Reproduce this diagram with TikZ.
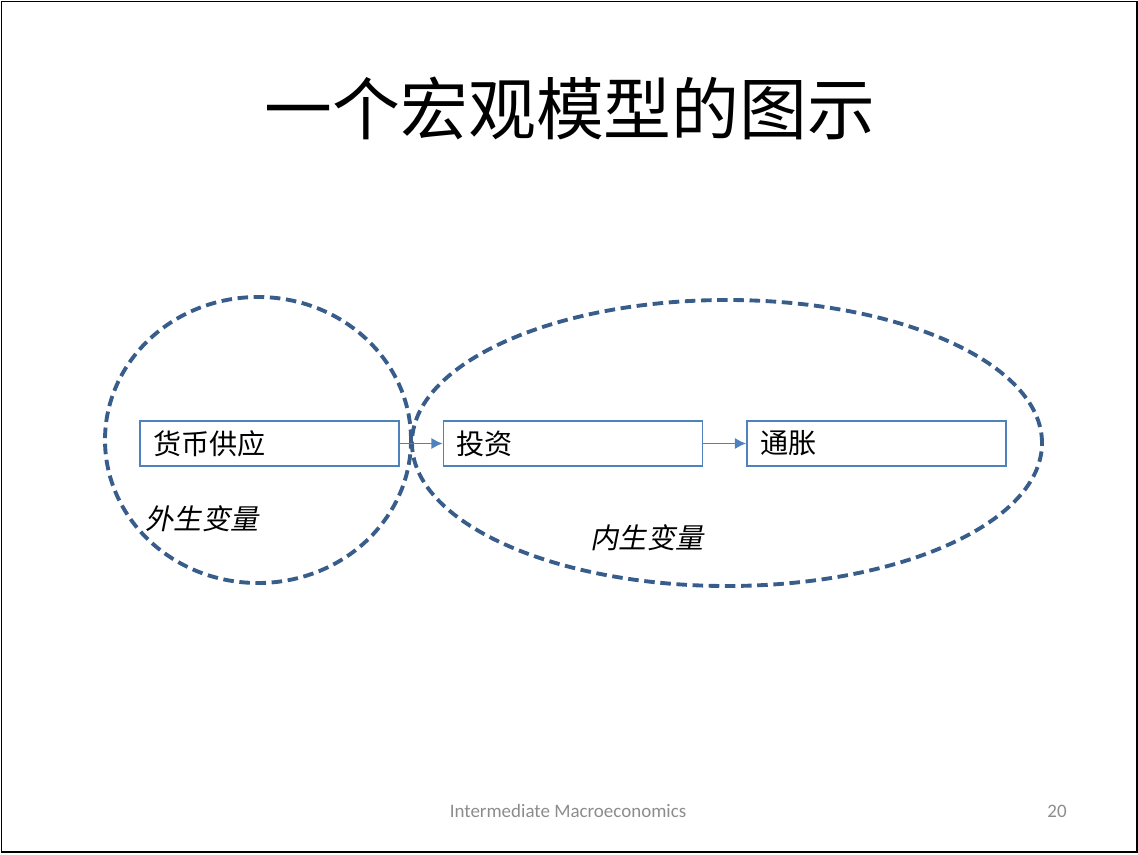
\documentclass[tikz,border=0pt]{standalone}
\usepackage{fontspec}
\setsansfont{Carlito}
\newfontfamily\cjk{Noto Sans CJK SC}
\newfontfamily\cjkit[FakeSlant=0.2]{Noto Sans CJK SC}
\usetikzlibrary{arrows.meta}
\definecolor{ringblue}{HTML}{385D8A}
\definecolor{boxblue}{HTML}{4F81BD}
\definecolor{footgray}{HTML}{8C8C8C}
\tikzset{
  varbox/.style={draw=boxblue, line width=0.5pt, minimum width=2.59cm, minimum height=0.45cm,
    text width=2.33cm, inner sep=0pt, align=left, font=\cjk\fontsize{8}{9}\selectfont},
  ring/.style={draw=ringblue, line width=1.1pt, dash pattern=on 3pt off 1.6pt},
  link/.style={draw=boxblue, line width=0.5pt, -{Latex[length=3.2pt,width=3.2pt]}}
}
\begin{document}
\begin{tikzpicture}
\useasboundingbox (0,0) rectangle (11.38,8.54);
\draw[line width=0.4pt] (0.015,0.02) rectangle (11.37,8.525);
\draw[line width=0.6pt] (11.37,8.525)--(11.37,0.02)--(0.015,0.02);
\node[font=\cjk\fontsize{19.3}{22}\selectfont] (title) at (5.70,7.46) {一个宏观模型的图示};
% two groups of variables
\draw[ring] (2.58,4.14) ellipse (1.53 and 1.43);
\draw[ring] (7.27,4.11) ellipse (3.15 and 1.43);
\node[varbox] (money) at (2.695,4.105) {货币供应};
\node[varbox] (invest) at (5.73,4.105) {投资};
\node[varbox] (infl) at (8.765,4.105) {通胀};
\draw[link] (money)--(invest);
\draw[link] (invest)--(infl);
\node[font=\cjkit\fontsize{8}{9}\selectfont] (exo) at (2.02,3.35) {外生变量};
\node[font=\cjkit\fontsize{8}{9}\selectfont] (endo) at (6.47,3.16) {内生变量};
% footer
\node[font=\sffamily\fontsize{5.4}{7}\selectfont, text=footgray] (foot) at (5.68,0.43) {Intermediate Macroeconomics};
\node[font=\sffamily\fontsize{5.4}{7}\selectfont, text=footgray] (page) at (10.57,0.43) {20};
\end{tikzpicture}
\end{document}
